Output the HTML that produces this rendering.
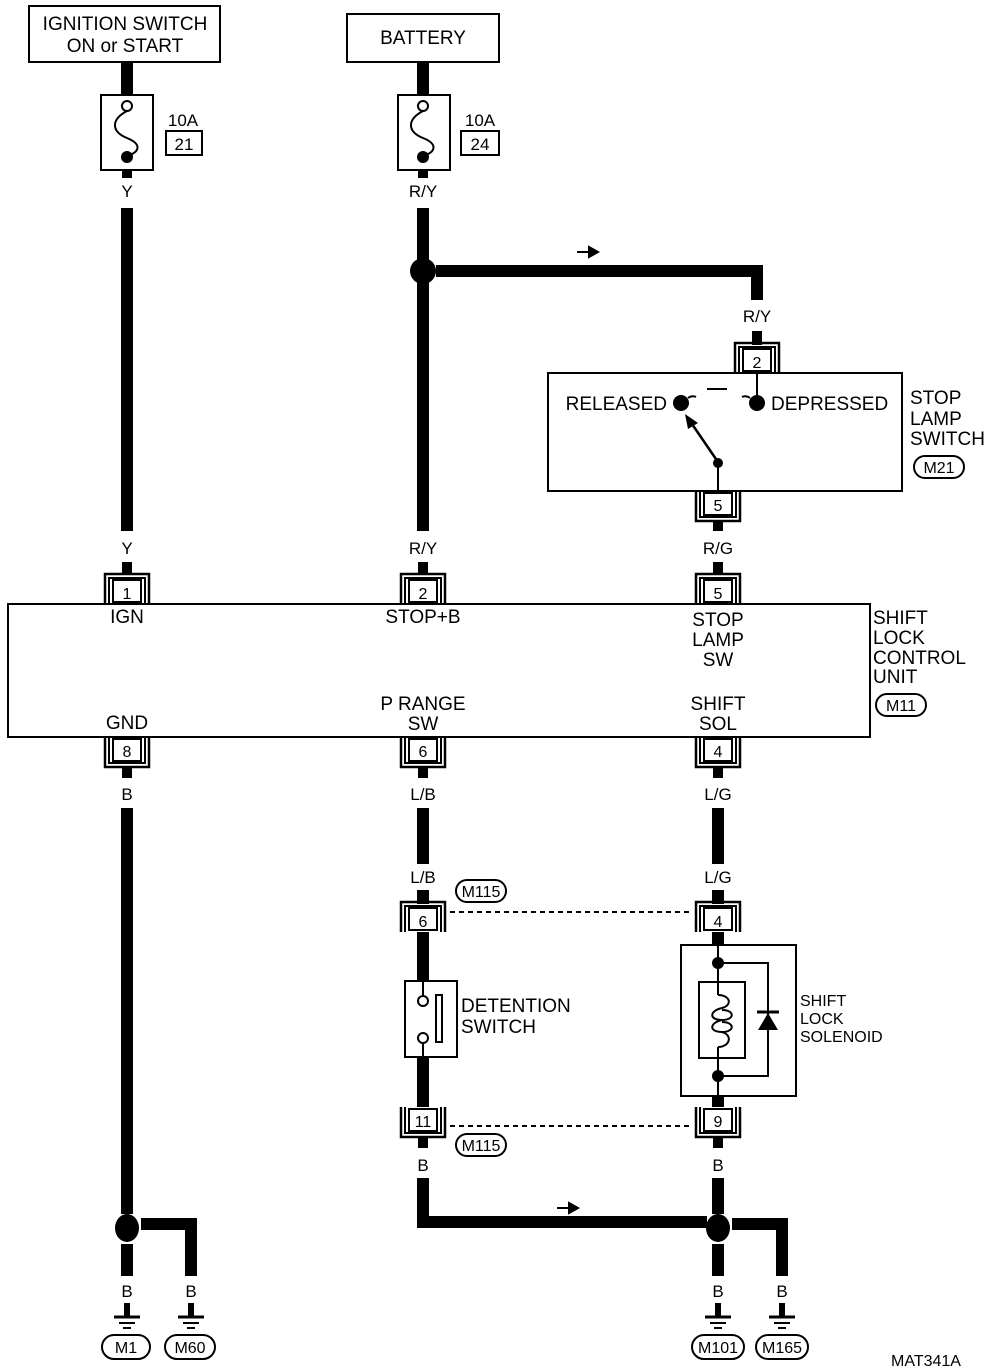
<!DOCTYPE html>
<html><head><meta charset="utf-8"><style>
html,body{margin:0;padding:0;background:#fff;}
svg{display:block;}
text{font-family:"Liberation Sans",Arial,sans-serif;fill:#000;}
</style></head><body>
<svg width="1008" height="1372" viewBox="0 0 1008 1372" xmlns="http://www.w3.org/2000/svg">
<defs>
<g id="ctop">
  <path d="M-22,0 V-30 H22 V0" fill="none" stroke="#000" stroke-width="2.5"/>
  <path d="M-18,0 V-26 H18 V0" fill="none" stroke="#000" stroke-width="2"/>
  <rect x="-14" y="-24" width="28" height="22" fill="#fff" stroke="#000" stroke-width="2"/>
</g>
<g id="cbot">
  <path d="M-22,0 V30 H22 V0" fill="none" stroke="#000" stroke-width="2.5"/>
  <path d="M-18,0 V26 H18 V0" fill="none" stroke="#000" stroke-width="2"/>
  <rect x="-14" y="2" width="28" height="22" fill="#fff" stroke="#000" stroke-width="2"/>
</g>
<g id="gnd">
  <rect x="-3" y="-12" width="6" height="14" fill="#000"/>
  <line x1="-13" y1="2" x2="13" y2="2" stroke="#000" stroke-width="3"/>
  <line x1="-8" y1="8" x2="8" y2="8" stroke="#000" stroke-width="2"/>
  <line x1="-4" y1="13" x2="4" y2="13" stroke="#000" stroke-width="2"/>
</g>
</defs>

<g font-size="19" text-anchor="middle">
<rect x="29" y="6" width="191" height="56" fill="none" stroke="#000" stroke-width="2"/>
<text x="125" y="30">IGNITION SWITCH</text>
<text x="125" y="52">ON or START</text>
<rect x="347" y="14" width="152" height="48" fill="none" stroke="#000" stroke-width="2"/>
<text x="423" y="44">BATTERY</text>

<rect x="121" y="62" width="12" height="34" fill="#000"/>
<rect x="101" y="95" width="52" height="75" fill="#fff" stroke="#000" stroke-width="2"/>
<circle cx="127" cy="106" r="5" fill="#fff" stroke="#000" stroke-width="2"/>
<path d="M127,111 C110,120 112,132 127,138 C142,144 140,152 127,156" fill="none" stroke="#000" stroke-width="2"/>
<circle cx="127" cy="157" r="6" fill="#000"/>
<text x="183" y="126" font-size="17">10A</text>
<rect x="166" y="131" width="36" height="24" fill="none" stroke="#000" stroke-width="2"/>
<text x="184" y="150" font-size="17">21</text>
<rect x="122" y="170" width="10" height="8" fill="#000"/>
<text x="127" y="197" font-size="17">Y</text>
<rect x="121" y="208" width="12" height="323" fill="#000"/>
<text x="127" y="554" font-size="17">Y</text>
<rect x="122" y="562" width="10" height="12" fill="#000"/>

<rect x="417" y="62" width="12" height="34" fill="#000"/>
<rect x="398" y="95" width="52" height="75" fill="#fff" stroke="#000" stroke-width="2"/>
<circle cx="423" cy="106" r="5" fill="#fff" stroke="#000" stroke-width="2"/>
<path d="M423,111 C406,120 408,132 423,138 C438,144 436,152 423,156" fill="none" stroke="#000" stroke-width="2"/>
<circle cx="423" cy="157" r="6" fill="#000"/>
<text x="480" y="126" font-size="17">10A</text>
<rect x="461" y="131" width="38" height="24" fill="none" stroke="#000" stroke-width="2"/>
<text x="480" y="150" font-size="17">24</text>
<rect x="418" y="170" width="10" height="8" fill="#000"/>
<text x="423" y="197" font-size="17">R/Y</text>
<rect x="417" y="208" width="12" height="323" fill="#000"/>
<circle cx="423" cy="271" r="13" fill="#000"/>
<rect x="436" y="265" width="327" height="12" fill="#000"/>
<rect x="751" y="265" width="12" height="35" fill="#000"/>
<path d="M577,252 H596 M589,247 L598,252 L589,257 Z" stroke="#000" stroke-width="2" fill="#000"/>
<text x="757" y="322" font-size="17">R/Y</text>
<rect x="752" y="331" width="10" height="14" fill="#000"/>
<text x="423" y="554" font-size="17">R/Y</text>
<rect x="418" y="562" width="10" height="12" fill="#000"/>

<use href="#ctop" x="757" y="373"/>
<text x="757" y="368" font-size="16">2</text>
<rect x="548" y="373" width="354" height="118" fill="none" stroke="#000" stroke-width="2"/>
<line x1="757" y1="373" x2="757" y2="402" stroke="#000" stroke-width="2"/>
<circle cx="757" cy="403" r="8" fill="#000"/>
<circle cx="681" cy="403" r="8" fill="#000"/>
<path d="M688,398 Q692,395 696,397" fill="none" stroke="#000" stroke-width="2"/>
<path d="M742,397 Q746,395 750,398" fill="none" stroke="#000" stroke-width="2"/>
<line x1="707" y1="389" x2="727" y2="389" stroke="#000" stroke-width="2"/>
<text x="667" y="410" text-anchor="end">RELEASED</text>
<text x="771" y="410" text-anchor="start">DEPRESSED</text>
<line x1="718" y1="462" x2="692" y2="424" stroke="#000" stroke-width="2.5"/>
<polygon points="685,414 698,423 688,429" fill="#000"/>
<circle cx="718" cy="463" r="5" fill="#000"/>
<line x1="718" y1="463" x2="718" y2="491" stroke="#000" stroke-width="2"/>
<use href="#cbot" x="718" y="491"/>
<text x="718" y="511" font-size="16">5</text>
<text x="910" y="404" text-anchor="start">STOP</text>
<text x="910" y="425" text-anchor="start">LAMP</text>
<text x="910" y="445" text-anchor="start">SWITCH</text>
<rect x="914" y="456" width="50" height="22" rx="11" fill="none" stroke="#000" stroke-width="2"/>
<text x="939" y="473" font-size="16">M21</text>
<rect x="713" y="522" width="10" height="9" fill="#000"/>
<text x="718" y="554" font-size="17">R/G</text>
<rect x="713" y="562" width="10" height="12" fill="#000"/>

<rect x="8" y="604" width="862" height="133" fill="#fff" stroke="#000" stroke-width="2"/>
<use href="#ctop" x="127" y="604"/><text x="127" y="599" font-size="16">1</text>
<use href="#ctop" x="423" y="604"/><text x="423" y="599" font-size="16">2</text>
<use href="#ctop" x="718" y="604"/><text x="718" y="599" font-size="16">5</text>
<text x="127" y="623">IGN</text>
<text x="423" y="623">STOP+B</text>
<text x="718" y="626">STOP</text>
<text x="718" y="646">LAMP</text>
<text x="718" y="666">SW</text>
<text x="127" y="729">GND</text>
<text x="423" y="710">P RANGE</text>
<text x="423" y="730">SW</text>
<text x="718" y="710">SHIFT</text>
<text x="718" y="730">SOL</text>
<text x="873" y="624" text-anchor="start">SHIFT</text>
<text x="873" y="644" text-anchor="start">LOCK</text>
<text x="873" y="664" text-anchor="start">CONTROL</text>
<text x="873" y="683" text-anchor="start">UNIT</text>
<rect x="876" y="694" width="50" height="22" rx="11" fill="none" stroke="#000" stroke-width="2"/>
<text x="901" y="711" font-size="16">M11</text>
<use href="#cbot" x="127" y="737"/><text x="127" y="757" font-size="16">8</text>
<use href="#cbot" x="423" y="737"/><text x="423" y="757" font-size="16">6</text>
<use href="#cbot" x="718" y="737"/><text x="718" y="757" font-size="16">4</text>

<rect x="122" y="768" width="10" height="10" fill="#000"/>
<text x="127" y="800" font-size="17">B</text>
<rect x="121" y="808" width="12" height="406" fill="#000"/>
<rect x="418" y="768" width="10" height="10" fill="#000"/>
<text x="423" y="800" font-size="17">L/B</text>
<rect x="417" y="808" width="12" height="56" fill="#000"/>
<text x="423" y="883" font-size="17">L/B</text>
<rect x="417" y="890" width="12" height="14" fill="#000"/>
<rect x="713" y="768" width="10" height="10" fill="#000"/>
<text x="718" y="800" font-size="17">L/G</text>
<rect x="712" y="808" width="12" height="56" fill="#000"/>
<text x="718" y="883" font-size="17">L/G</text>
<rect x="712" y="890" width="12" height="14" fill="#000"/>

<use href="#ctop" x="423" y="932"/><text x="423" y="927" font-size="16">6</text>
<use href="#ctop" x="718" y="932"/><text x="718" y="927" font-size="16">4</text>
<rect x="456" y="880" width="50" height="22" rx="11" fill="none" stroke="#000" stroke-width="2"/>
<text x="481" y="897" font-size="16">M115</text>
<line x1="450" y1="912" x2="693" y2="912" stroke="#000" stroke-width="2" stroke-dasharray="5,4"/>

<rect x="417" y="932" width="12" height="50" fill="#000"/>
<rect x="405" y="981" width="52" height="76" fill="#fff" stroke="#000" stroke-width="2"/>
<line x1="423" y1="981" x2="423" y2="995" stroke="#000" stroke-width="2"/>
<circle cx="423" cy="1001" r="5" fill="#fff" stroke="#000" stroke-width="2"/>
<circle cx="423" cy="1038" r="5" fill="#fff" stroke="#000" stroke-width="2"/>
<line x1="423" y1="1043" x2="423" y2="1057" stroke="#000" stroke-width="2"/>
<rect x="436" y="995" width="6" height="47" fill="#fff" stroke="#000" stroke-width="2"/>
<text x="461" y="1012" text-anchor="start">DETENTION</text>
<text x="461" y="1033" text-anchor="start">SWITCH</text>
<rect x="417" y="1057" width="12" height="50" fill="#000"/>

<rect x="712" y="932" width="12" height="14" fill="#000"/>
<rect x="681" y="945" width="115" height="151" fill="none" stroke="#000" stroke-width="2"/>
<line x1="718" y1="945" x2="718" y2="982" stroke="#000" stroke-width="2"/>
<line x1="718" y1="1058" x2="718" y2="1096" stroke="#000" stroke-width="2"/>
<rect x="699" y="982" width="46" height="76" fill="none" stroke="#000" stroke-width="2"/>
<path d="M718,995 C730,995 733,1005 722,1008 C709,1011 709,1020 722,1020 C735,1020 735,1010 722,1010 M722,1020 C709,1023 709,1032 722,1032 C735,1032 735,1022 722,1022 M722,1032 C733,1035 730,1047 718,1047" fill="none" stroke="#000" stroke-width="2"/>
<line x1="718" y1="982" x2="718" y2="995" stroke="#000" stroke-width="2"/>
<line x1="718" y1="1047" x2="718" y2="1058" stroke="#000" stroke-width="2"/>
<path d="M718,963 H768 V1076 H718" fill="none" stroke="#000" stroke-width="2"/>
<circle cx="718" cy="963" r="6" fill="#000"/>
<circle cx="718" cy="1076" r="6" fill="#000"/>
<polygon points="758,1030 778,1030 768,1013" fill="#000"/>
<line x1="757" y1="1012" x2="779" y2="1012" stroke="#000" stroke-width="3"/>
<text x="800" y="1006" text-anchor="start" font-size="16">SHIFT</text>
<text x="800" y="1024" text-anchor="start" font-size="16">LOCK</text>
<text x="800" y="1042" text-anchor="start" font-size="16">SOLENOID</text>
<rect x="712" y="1096" width="12" height="11" fill="#000"/>

<use href="#cbot" x="423" y="1107"/><text x="423" y="1127" font-size="16">11</text>
<use href="#cbot" x="718" y="1107"/><text x="718" y="1127" font-size="16">9</text>
<line x1="450" y1="1126" x2="693" y2="1126" stroke="#000" stroke-width="2" stroke-dasharray="5,4"/>
<rect x="456" y="1134" width="50" height="22" rx="11" fill="none" stroke="#000" stroke-width="2"/>
<text x="481" y="1151" font-size="16">M115</text>

<rect x="418" y="1138" width="10" height="10" fill="#000"/>
<text x="423" y="1171" font-size="17">B</text>
<rect x="417" y="1178" width="12" height="50" fill="#000"/>
<rect x="417" y="1216" width="290" height="12" fill="#000"/>
<path d="M557,1208 H576 M569,1203 L578,1208 L569,1213 Z" stroke="#000" stroke-width="2" fill="#000"/>
<rect x="713" y="1138" width="10" height="10" fill="#000"/>
<text x="718" y="1171" font-size="17">B</text>
<rect x="712" y="1178" width="12" height="36" fill="#000"/>
<ellipse cx="718" cy="1228" rx="12" ry="14" fill="#000"/>
<rect x="732" y="1218" width="56" height="12" fill="#000"/>
<rect x="776" y="1218" width="12" height="58" fill="#000"/>
<rect x="712" y="1244" width="12" height="32" fill="#000"/>

<ellipse cx="127" cy="1228" rx="12" ry="14" fill="#000"/>
<rect x="141" y="1218" width="56" height="12" fill="#000"/>
<rect x="185" y="1218" width="12" height="58" fill="#000"/>
<rect x="121" y="1244" width="12" height="32" fill="#000"/>

<g font-size="17">
<text x="127" y="1297">B</text><text x="191" y="1297">B</text>
<text x="718" y="1297">B</text><text x="782" y="1297">B</text>
</g>
<use href="#gnd" x="127" y="1315"/><use href="#gnd" x="191" y="1315"/>
<use href="#gnd" x="718" y="1315"/><use href="#gnd" x="782" y="1315"/>
<g font-size="16">
<rect x="102" y="1335" width="48" height="24" rx="12" fill="none" stroke="#000" stroke-width="2"/><text x="126" y="1353">M1</text>
<rect x="165" y="1335" width="50" height="24" rx="12" fill="none" stroke="#000" stroke-width="2"/><text x="190" y="1353">M60</text>
<rect x="692" y="1335" width="52" height="24" rx="12" fill="none" stroke="#000" stroke-width="2"/><text x="718" y="1353">M101</text>
<rect x="756" y="1335" width="52" height="24" rx="12" fill="none" stroke="#000" stroke-width="2"/><text x="782" y="1353">M165</text>
<text x="926" y="1366">MAT341A</text>
</g>
</g>
</svg>
</body></html>
